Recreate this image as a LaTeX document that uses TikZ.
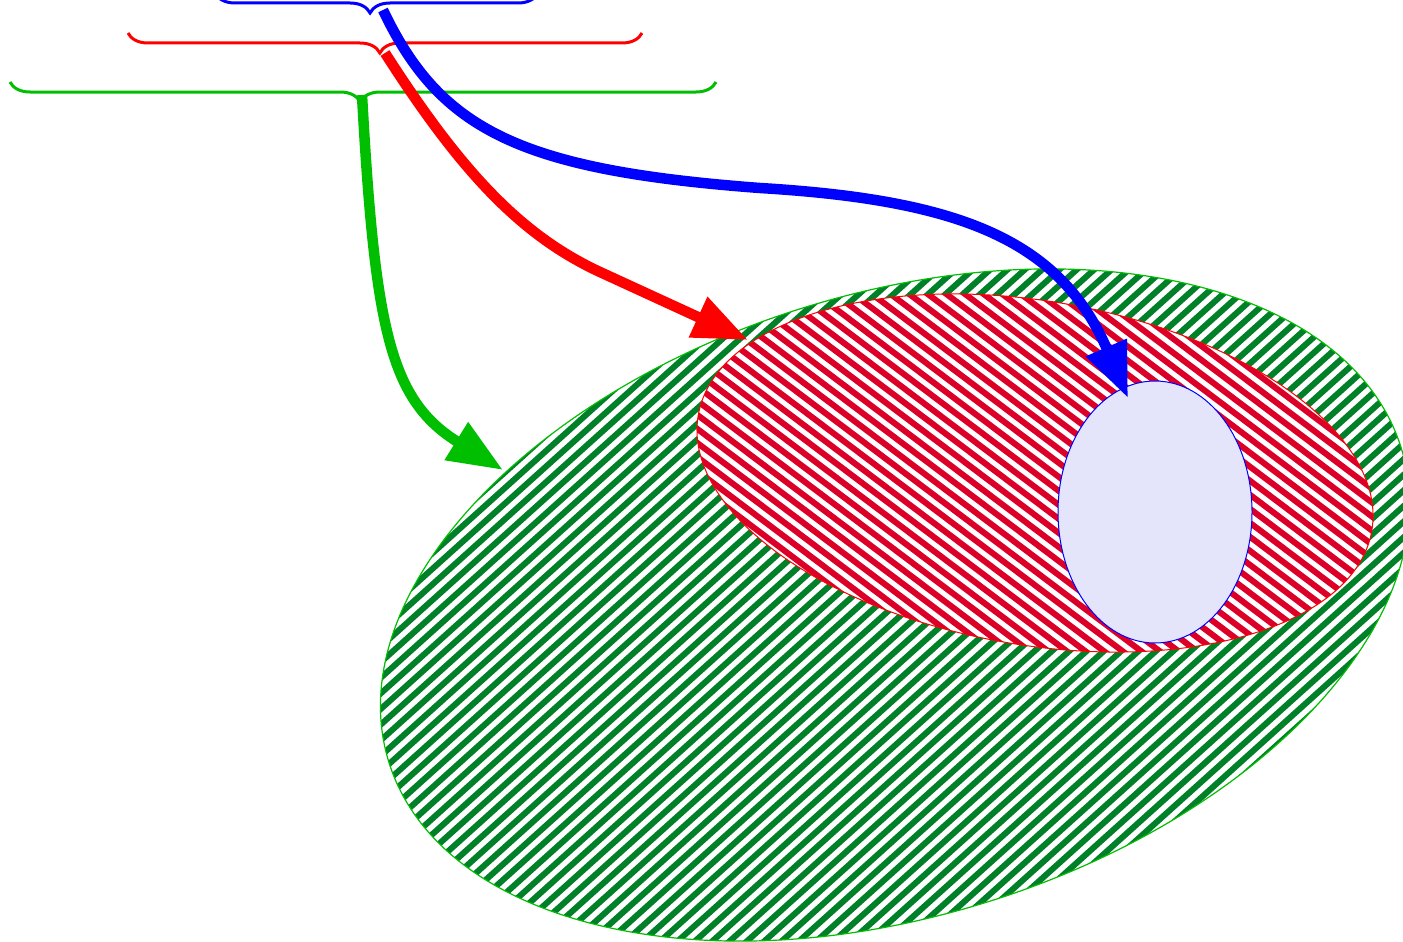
\documentclass[tikz,border=0pt]{standalone}
\usetikzlibrary{arrows.meta,decorations.pathreplacing}
\definecolor{setgreen}{RGB}{0,190,0}
\definecolor{stripegreen}{RGB}{0,128,40}
\definecolor{stripered}{RGB}{220,0,40}
\definecolor{setblue}{RGB}{0,0,255}
\definecolor{setred}{RGB}{255,0,0}
\definecolor{innerfill}{RGB}{228,228,250}
\tikzset{
  x=1pt, y=-1pt,
  bracket/.style={draw=#1, line width=3pt, decorate,
    decoration={brace, amplitude=20pt, mirror}},
  link/.style={draw=#1, line width=10.5pt,
    -{Triangle[length=55pt,width=42pt]}},
  stripe/.style={draw=#1, line width=6pt},
}
\begin{document}
\begin{tikzpicture}
\useasboundingbox (0,0) rectangle (1403,942);

% outer set: green hatching
\begin{scope}
  \clip (895,605) ellipse [x radius=530pt, y radius=311pt, rotate=17.25];
  \begin{scope}[shift={(895,605)}, rotate=42]
    \foreach \k in {-60,...,60}
      \draw[stripe=stripegreen] (-700,{\k*11.6}) -- (700,{\k*11.6});
  \end{scope}
\end{scope}
\draw[setgreen, line width=1.2pt] (895,605) ellipse [x radius=530pt, y radius=311pt, rotate=17.25];

% middle set: red hatching
\fill[white] (1035,473) ellipse [x radius=341.7pt, y radius=171.9pt, rotate=-9.74];
\begin{scope}
  \clip (1035,473) ellipse [x radius=341.7pt, y radius=171.9pt, rotate=-9.74];
  \begin{scope}[shift={(1035,473)}, rotate=-37]
    \foreach \k in {-40,...,40}
      \draw[stripe=stripered] (-450,{\k*11.2}) -- (450,{\k*11.2});
  \end{scope}
\end{scope}
\draw[setred, line width=1pt] (1035,473) ellipse [x radius=341.7pt, y radius=171.9pt, rotate=-9.74];

% inner set
\filldraw[fill=innerfill, draw=setblue, line width=1pt] (1155,512) ellipse [x radius=97pt, y radius=131pt];

% braces
\draw[bracket=setblue, decoration={aspect=0.48}] (215,-7) -- (538,-7);
\draw[bracket=setred, decoration={aspect=0.49}] (128,33) -- (642,33);
\draw[bracket=setgreen, decoration={aspect=0.496}] (10,82) -- (716,82);

% arrow anchors
\coordinate (bluefrom) at (383,10);
\coordinate (redfrom) at (385,53);
\coordinate (greenfrom) at (362,95);
\coordinate (blueto) at (1128,398);
\coordinate (redto) at (748,340);
\coordinate (greento) at (503,470);

% arrows
\draw[link=setblue] (bluefrom) .. controls (440,130) and (520,170) .. (760,188)
  .. controls (960,200) and (1060,240) .. (blueto);
\draw[link=setred] (redfrom) .. controls (460,170) and (520,235) .. (600,272) -- (redto);
\draw[link=setgreen] (greenfrom) .. controls (375,330) and (390,400) .. (greento);
\end{tikzpicture}
\end{document}
